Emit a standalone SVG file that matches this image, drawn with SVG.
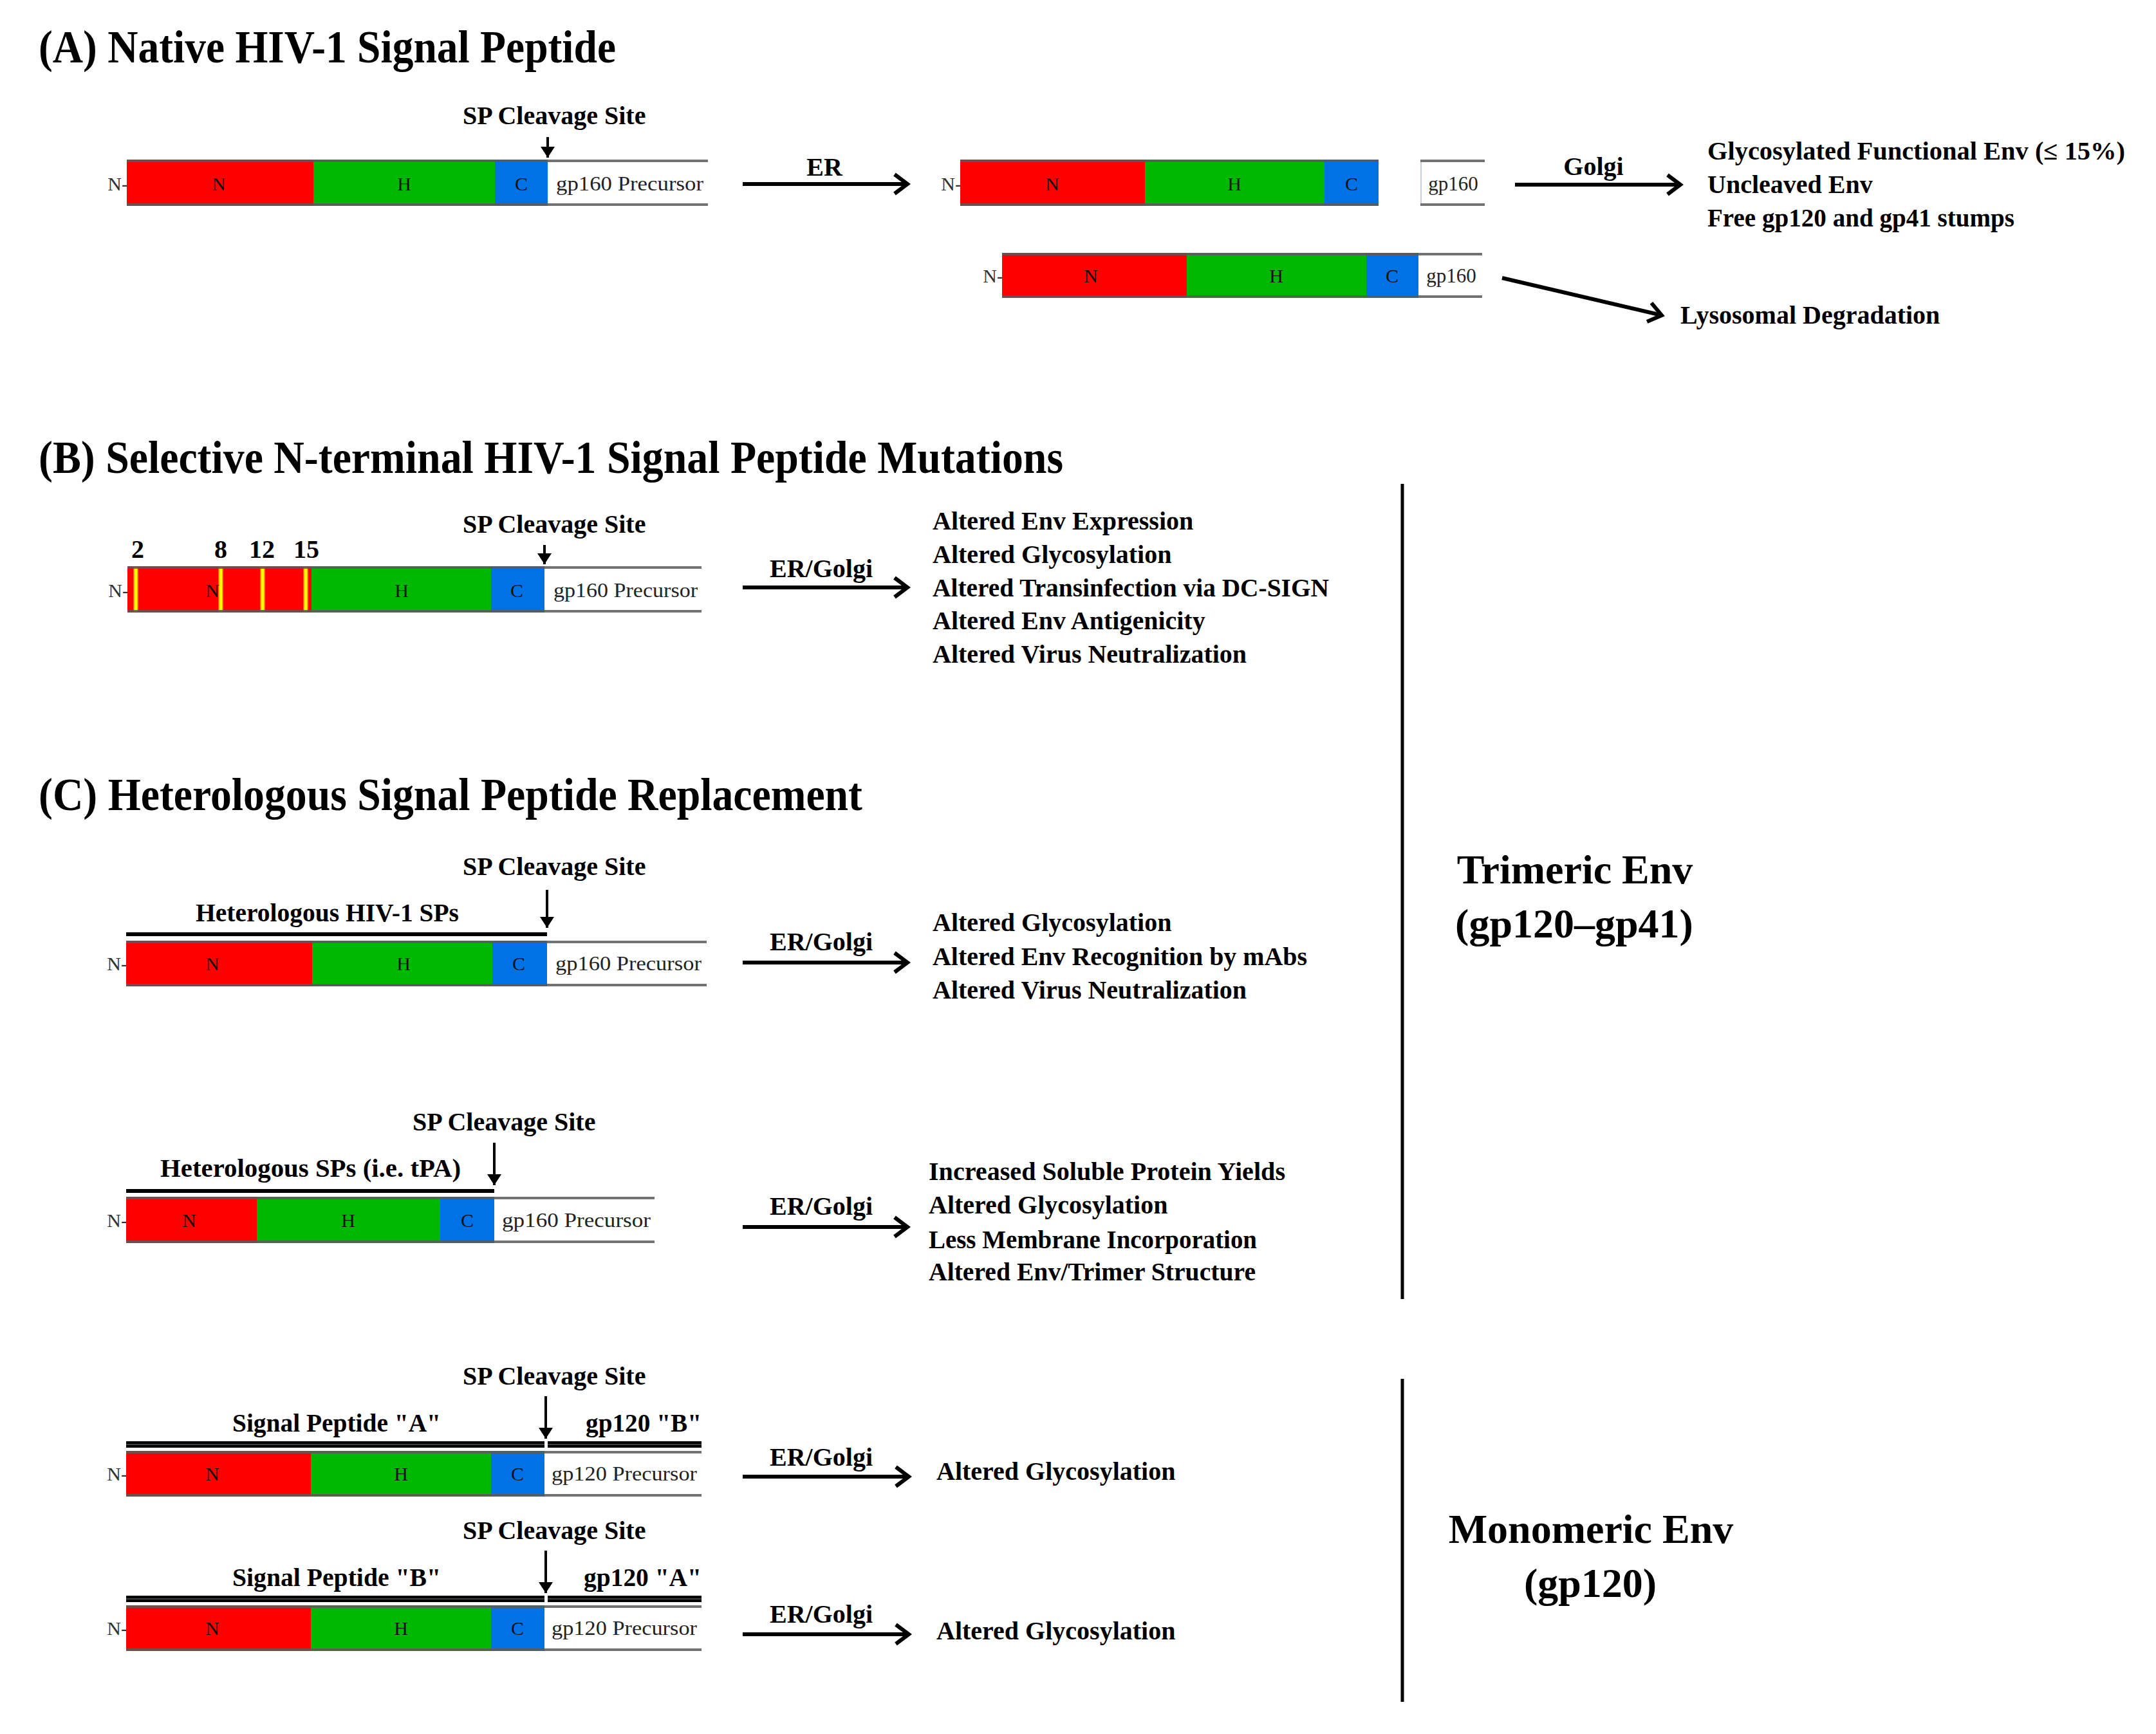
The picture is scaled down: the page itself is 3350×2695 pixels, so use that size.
<svg xmlns="http://www.w3.org/2000/svg" width="3350" height="2695" viewBox="0 0 3350 2695">
<style>
text{font-family:"Liberation Serif","Times New Roman",serif;fill:#000}
.ttl{font-size:71px;font-weight:bold}
.lb{font-size:40px;font-weight:bold}
.big{font-size:64px;font-weight:bold;text-anchor:middle}
.seg{font-size:30px;fill:#111;text-anchor:middle}
.pre{font-size:31px;fill:#222}
.nt{font-size:30px;fill:#333;text-anchor:end}
.r{fill:#ff0000}.g{fill:#00b800}.b{fill:#0072e6}
.edge{stroke:#5a5a5a;stroke-width:4;opacity:.85}
.yl{fill:#ffff00;stroke:#ff8c00;stroke-width:1.5}
.conn{stroke:#000;stroke-width:6;fill:none}
.dn{stroke:#000;stroke-width:4;fill:none}
.ovl{stroke:#000;stroke-width:6}
.dbl{fill:#000}
.dblc{stroke:#555;stroke-width:1.5}
.vline{stroke:#000;stroke-width:5}
</style>
<defs>
<marker id="chev" markerUnits="userSpaceOnUse" viewBox="-30 -20 40 40" markerWidth="40" markerHeight="40" refX="0" refY="0" orient="auto" overflow="visible">
<path d="M-20,-15 L0,0 L-20,15" fill="none" stroke="#000" stroke-width="6"/>
</marker>
<marker id="tri" markerUnits="userSpaceOnUse" viewBox="-20 -12 24 24" markerWidth="24" markerHeight="24" refX="0" refY="0" orient="auto" overflow="visible">
<path d="M-17,-11 L0,0 L-17,11 Z" fill="#000"/>
</marker>
</defs>

<!-- ===== Section A ===== -->
<g id="titleA"><text class="ttl" x="60" y="97" textLength="897" lengthAdjust="spacingAndGlyphs">(A) Native HIV-1 Signal Peptide</text></g>

<g id="barA1">
<text class="lb" x="719" y="193">SP Cleavage Site</text>
<text class="nt" x="199" y="296">N-</text>
<rect class="r" x="197" y="248" width="290" height="72"/>
<rect class="g" x="487" y="248" width="282" height="72"/>
<rect class="b" x="769" y="248" width="82" height="72"/>
<line class="edge" x1="197" y1="250" x2="1100" y2="250"/>
<line class="edge" x1="197" y1="318" x2="1100" y2="318"/>
<text class="seg" x="340" y="296">N</text>
<text class="seg" x="628" y="296">H</text>
<text class="seg" x="810" y="296">C</text>
<text class="pre" x="864" y="296" textLength="229" lengthAdjust="spacingAndGlyphs">gp160 Precursor</text>
</g>

<g id="barA2">
<text class="nt" x="1494" y="296">N-</text>
<rect class="r" x="1492" y="248" width="287" height="72"/>
<rect class="g" x="1779" y="248" width="279" height="72"/>
<rect class="b" x="2058" y="248" width="84" height="72"/>
<line class="edge" x1="1492" y1="250" x2="2142" y2="250"/>
<line class="edge" x1="1492" y1="318" x2="2142" y2="318"/>
<text class="seg" x="1635" y="296">N</text>
<text class="seg" x="1918" y="296">H</text>
<text class="seg" x="2100" y="296">C</text>
</g>
<g id="boxA2">
<line x1="2208" y1="250" x2="2208" y2="318" stroke="#c8cfe0" stroke-width="2"/>
<line class="edge" x1="2207" y1="250" x2="2307" y2="250"/>
<line class="edge" x1="2207" y1="318" x2="2307" y2="318"/>
<text class="pre" x="2258" y="296" text-anchor="middle">gp160</text>
</g>

<g id="outA1">
<text class="lb" x="2653" y="248" textLength="649" lengthAdjust="spacingAndGlyphs">Glycosylated Functional Env (≤ 15%)</text>
<text class="lb" x="2653" y="300">Uncleaved Env</text>
<text class="lb" x="2653" y="352" textLength="477" lengthAdjust="spacingAndGlyphs">Free gp120 and gp41 stumps</text>
</g>

<g id="barA3">
<text class="nt" x="1559" y="439">N-</text>
<rect class="r" x="1557" y="393" width="287" height="70"/>
<rect class="g" x="1844" y="393" width="279" height="70"/>
<rect class="b" x="2123" y="393" width="81" height="70"/>
<line class="edge" x1="1557" y1="395" x2="2303" y2="395"/>
<line class="edge" x1="1557" y1="461" x2="2303" y2="461"/>
<text class="seg" x="1695" y="439">N</text>
<text class="seg" x="1983" y="439">H</text>
<text class="seg" x="2163" y="439">C</text>
<text class="pre" x="2255" y="439" text-anchor="middle">gp160</text>
</g>

<g id="outA2"><text class="lb" x="2611" y="503">Lysosomal Degradation</text></g>

<!-- ===== Section B ===== -->
<g id="titleB"><text class="ttl" x="60" y="735" textLength="1592" lengthAdjust="spacingAndGlyphs">(B) Selective N-terminal HIV-1 Signal Peptide Mutations</text></g>

<g id="barB">
<text class="lb" x="719" y="828">SP Cleavage Site</text>
<text class="lb" x="214" y="867" text-anchor="middle">2</text>
<text class="lb" x="343" y="867" text-anchor="middle">8</text>
<text class="lb" x="407" y="867" text-anchor="middle">12</text>
<text class="lb" x="476" y="867" text-anchor="middle">15</text>
<text class="nt" x="200" y="928">N-</text>
<rect class="r" x="198" y="880" width="286" height="72"/>
<rect class="g" x="484" y="880" width="279" height="72"/>
<rect class="b" x="763" y="880" width="83" height="72"/>
<rect class="yl" x="208" y="882" width="6" height="68"/>
<rect class="yl" x="340" y="882" width="6" height="68"/>
<rect class="yl" x="405" y="882" width="6" height="68"/>
<rect class="yl" x="472" y="882" width="6" height="68"/>
<line class="edge" x1="198" y1="882" x2="1090" y2="882"/>
<line class="edge" x1="198" y1="950" x2="1090" y2="950"/>
<text class="seg" x="330" y="928">N</text>
<text class="seg" x="624" y="928">H</text>
<text class="seg" x="803" y="928">C</text>
<text class="pre" x="860" y="928" textLength="224" lengthAdjust="spacingAndGlyphs">gp160 Precursor</text>
</g>

<g id="outB">
<text class="lb" x="1449" y="823">Altered Env Expression</text>
<text class="lb" x="1449" y="875">Altered Glycosylation</text>
<text class="lb" x="1449" y="927" textLength="616" lengthAdjust="spacingAndGlyphs">Altered Transinfection via DC-SIGN</text>
<text class="lb" x="1449" y="978">Altered Env Antigenicity</text>
<text class="lb" x="1449" y="1030">Altered Virus Neutralization</text>
</g>

<g id="trimeric">
<line class="vline" x1="2179" y1="752" x2="2179" y2="2019"/>
<text class="big" x="2447" y="1373">Trimeric Env</text>
<text class="big" x="2446" y="1457">(gp120–gp41)</text>
</g>

<!-- ===== Section C ===== -->
<g id="titleC"><text class="ttl" x="60" y="1259" textLength="1280" lengthAdjust="spacingAndGlyphs">(C) Heterologous Signal Peptide Replacement</text></g>

<g id="barC1">
<text class="lb" x="719" y="1360">SP Cleavage Site</text>
<text class="lb" x="304" y="1432" textLength="409" lengthAdjust="spacingAndGlyphs">Heterologous HIV-1 SPs</text>
<line class="ovl" x1="196" y1="1452" x2="850" y2="1452"/>
<text class="nt" x="198" y="1508">N-</text>
<rect class="r" x="196" y="1462" width="289" height="71"/>
<rect class="g" x="485" y="1462" width="280" height="71"/>
<rect class="b" x="765" y="1462" width="85" height="71"/>
<line class="edge" x1="196" y1="1464" x2="1098" y2="1464"/>
<line class="edge" x1="196" y1="1531" x2="1098" y2="1531"/>
<text class="seg" x="330" y="1508">N</text>
<text class="seg" x="627" y="1508">H</text>
<text class="seg" x="806" y="1508">C</text>
<text class="pre" x="863" y="1508" textLength="227" lengthAdjust="spacingAndGlyphs">gp160 Precursor</text>
</g>

<g id="outC1">
<text class="lb" x="1449" y="1447">Altered Glycosylation</text>
<text class="lb" x="1449" y="1500" textLength="582" lengthAdjust="spacingAndGlyphs">Altered Env Recognition by mAbs</text>
<text class="lb" x="1449" y="1552">Altered Virus Neutralization</text>
</g>

<g id="barC2">
<text class="lb" x="641" y="1757">SP Cleavage Site</text>
<text class="lb" x="249" y="1829" textLength="467" lengthAdjust="spacingAndGlyphs">Heterologous SPs (i.e. tPA)</text>
<line class="ovl" x1="196" y1="1851" x2="768" y2="1851"/>
<text class="nt" x="198" y="1907">N-</text>
<rect class="r" x="196" y="1860" width="203" height="72"/>
<rect class="g" x="399" y="1860" width="285" height="72"/>
<rect class="b" x="684" y="1860" width="84" height="72"/>
<line class="edge" x1="196" y1="1862" x2="1017" y2="1862"/>
<line class="edge" x1="196" y1="1930" x2="1017" y2="1930"/>
<text class="seg" x="294" y="1907">N</text>
<text class="seg" x="541" y="1907">H</text>
<text class="seg" x="726" y="1907">C</text>
<text class="pre" x="780" y="1907" textLength="231" lengthAdjust="spacingAndGlyphs">gp160 Precursor</text>
</g>

<g id="outC2">
<text class="lb" x="1443" y="1834" textLength="554" lengthAdjust="spacingAndGlyphs">Increased Soluble Protein Yields</text>
<text class="lb" x="1443" y="1886">Altered Glycosylation</text>
<text class="lb" x="1443" y="1940" textLength="510" lengthAdjust="spacingAndGlyphs">Less Membrane Incorporation</text>
<text class="lb" x="1443" y="1990" textLength="508" lengthAdjust="spacingAndGlyphs">Altered Env/Trimer Structure</text>
</g>

<g id="barC3">
<text class="lb" x="719" y="2152">SP Cleavage Site</text>
<text class="lb" x="361" y="2225" textLength="324" lengthAdjust="spacingAndGlyphs">Signal Peptide "A"</text>
<text class="lb" x="910" y="2225" textLength="180" lengthAdjust="spacingAndGlyphs">gp120 "B"</text>
<rect class="dbl" x="196" y="2240" width="650" height="10"/>
<rect class="dbl" x="851" y="2240" width="239" height="10"/>
<line class="dblc" x1="196" y1="2245" x2="846" y2="2245"/>
<line class="dblc" x1="851" y1="2245" x2="1090" y2="2245"/>
<text class="nt" x="198" y="2301">N-</text>
<rect class="r" x="196" y="2255" width="287" height="71"/>
<rect class="g" x="483" y="2255" width="280" height="71"/>
<rect class="b" x="763" y="2255" width="83" height="71"/>
<line class="edge" x1="196" y1="2257" x2="1090" y2="2257"/>
<line class="edge" x1="196" y1="2324" x2="1090" y2="2324"/>
<text class="seg" x="330" y="2301">N</text>
<text class="seg" x="623" y="2301">H</text>
<text class="seg" x="804" y="2301">C</text>
<text class="pre" x="857" y="2301" textLength="226" lengthAdjust="spacingAndGlyphs">gp120 Precursor</text>
</g>

<g id="outC3"><text class="lb" x="1455" y="2300">Altered Glycosylation</text></g>

<g id="barC4">
<text class="lb" x="719" y="2392">SP Cleavage Site</text>
<text class="lb" x="361" y="2465" textLength="324" lengthAdjust="spacingAndGlyphs">Signal Peptide "B"</text>
<text class="lb" x="907" y="2465" textLength="183" lengthAdjust="spacingAndGlyphs">gp120 "A"</text>
<rect class="dbl" x="196" y="2480" width="650" height="10"/>
<rect class="dbl" x="851" y="2480" width="239" height="10"/>
<line class="dblc" x1="196" y1="2485" x2="846" y2="2485"/>
<line class="dblc" x1="851" y1="2485" x2="1090" y2="2485"/>
<text class="nt" x="198" y="2541">N-</text>
<rect class="r" x="196" y="2495" width="287" height="71"/>
<rect class="g" x="483" y="2495" width="280" height="71"/>
<rect class="b" x="763" y="2495" width="83" height="71"/>
<line class="edge" x1="196" y1="2497" x2="1090" y2="2497"/>
<line class="edge" x1="196" y1="2564" x2="1090" y2="2564"/>
<text class="seg" x="330" y="2541">N</text>
<text class="seg" x="623" y="2541">H</text>
<text class="seg" x="804" y="2541">C</text>
<text class="pre" x="857" y="2541" textLength="226" lengthAdjust="spacingAndGlyphs">gp120 Precursor</text>
</g>

<g id="outC4"><text class="lb" x="1455" y="2548">Altered Glycosylation</text></g>

<g id="monomeric">
<line class="vline" x1="2179" y1="2143" x2="2179" y2="2645"/>
<text class="big" x="2472" y="2398">Monomeric Env</text>
<text class="big" x="2471" y="2482">(gp120)</text>
</g>

<!-- ===== Connectors ===== -->
<g id="connectors">
<line class="dn" x1="851" y1="213" x2="851" y2="245" marker-end="url(#tri)"/>
<line class="dn" x1="846" y1="847" x2="846" y2="877" marker-end="url(#tri)"/>
<line class="dn" x1="850" y1="1383" x2="850" y2="1442" marker-end="url(#tri)"/>
<line class="dn" x1="768" y1="1776" x2="768" y2="1842" marker-end="url(#tri)"/>
<line class="dn" x1="848" y1="2170" x2="848" y2="2236" marker-end="url(#tri)"/>
<line class="dn" x1="848" y1="2410" x2="848" y2="2476" marker-end="url(#tri)"/>

<line class="conn" x1="1154" y1="286" x2="1410" y2="286" marker-end="url(#chev)"/>
<text class="lb" x="1281" y="273" text-anchor="middle">ER</text>
<line class="conn" x1="2354" y1="287" x2="2611" y2="287" marker-end="url(#chev)"/>
<text class="lb" x="2476" y="272" text-anchor="middle">Golgi</text>
<line class="conn" x1="2334" y1="432" x2="2582" y2="490" marker-end="url(#chev)"/>

<line class="conn" x1="1154" y1="913" x2="1410" y2="913" marker-end="url(#chev)"/>
<text class="lb" x="1196" y="897">ER/Golgi</text>
<line class="conn" x1="1154" y1="1496" x2="1410" y2="1496" marker-end="url(#chev)"/>
<text class="lb" x="1196" y="1477">ER/Golgi</text>
<line class="conn" x1="1154" y1="1907" x2="1410" y2="1907" marker-end="url(#chev)"/>
<text class="lb" x="1196" y="1888">ER/Golgi</text>
<line class="conn" x1="1154" y1="2295" x2="1412" y2="2295" marker-end="url(#chev)"/>
<text class="lb" x="1196" y="2278">ER/Golgi</text>
<line class="conn" x1="1154" y1="2540" x2="1412" y2="2540" marker-end="url(#chev)"/>
<text class="lb" x="1196" y="2522">ER/Golgi</text>
</g>
</svg>
